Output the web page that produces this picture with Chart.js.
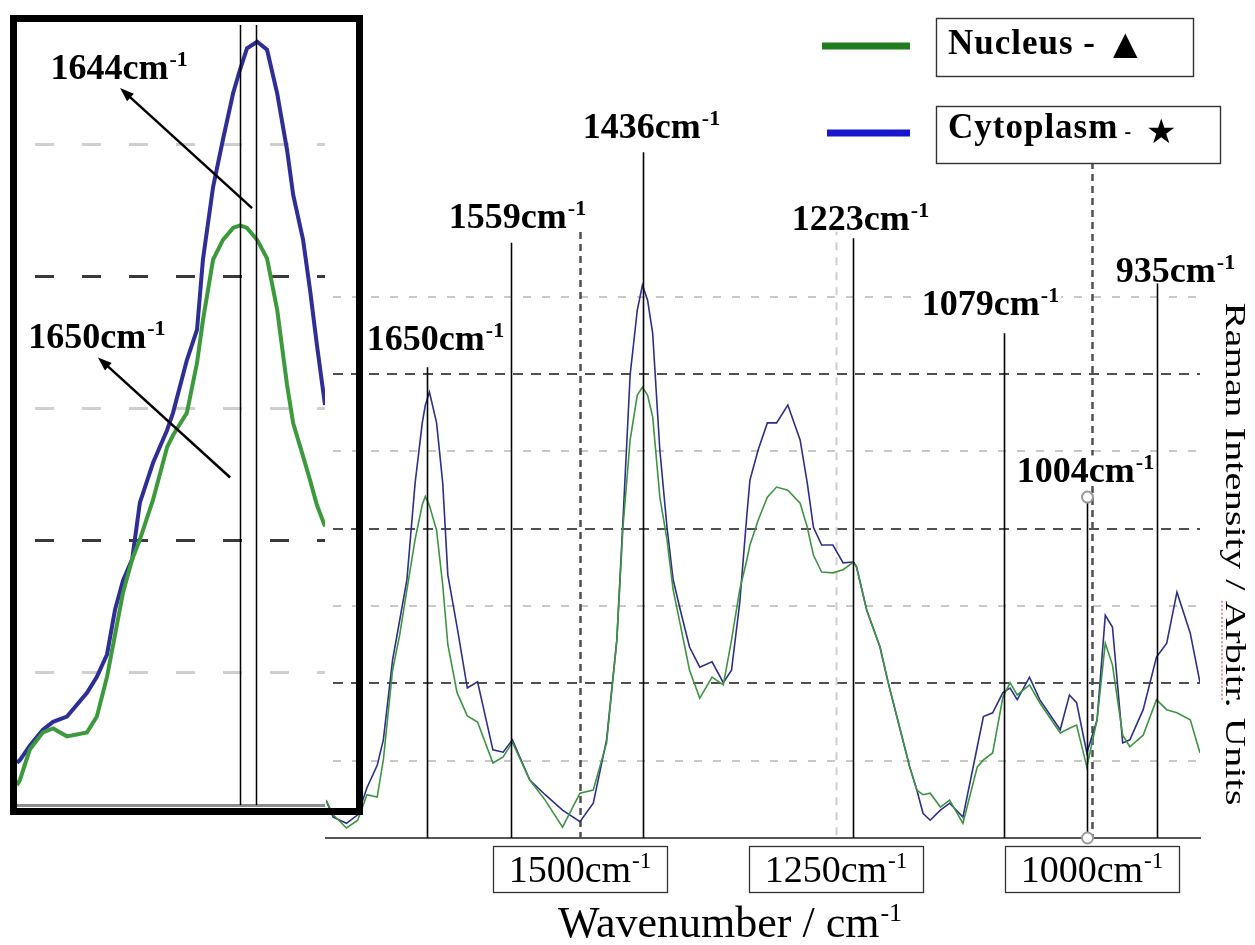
<!DOCTYPE html>
<html>
<head>
<meta charset="utf-8">
<title>Raman spectra</title>
<script src="https://cdn.jsdelivr.net/npm/chart.js@4.4.1/dist/chart.umd.min.js"></script>
<style>
  html, body { margin: 0; padding: 0; background: #fff; }
  #page { position: relative; width: 1255px; height: 945px; overflow: hidden; background: #fff; }
  #mainChart { position: absolute; left: 0; top: 0; }
  #insetChart { position: absolute; left: 17px; top: 22px; background: #fff; }
  #insetFrame { position: absolute; left: 10px; top: 15px; width: 353px; height: 800px;
                border: 7px solid #000; box-sizing: border-box; pointer-events: none; }
</style>
</head>
<body>
<div id="page">
  <canvas id="mainChart" width="1255" height="945"></canvas>
  <canvas id="insetChart" width="308" height="790"></canvas>
  <div id="insetFrame"></div>
</div>
<script>
// main spectrum, wavenumber in cm-1 (descending) and intensity in grid units
const wavenumbers = [1748, 1741, 1728, 1717, 1708, 1698, 1692, 1683, 1676, 1669, 1661, 1654, 1651, 1647,
    1640, 1634, 1629, 1620, 1610, 1600, 1585, 1575, 1566, 1549, 1534, 1517, 1500, 1487, 1474, 1464,
    1458, 1451, 1444, 1439, 1434, 1429, 1422, 1415, 1409, 1402, 1393, 1383, 1371, 1360, 1352, 1344,
    1337, 1334, 1326, 1317, 1308, 1297, 1285, 1278, 1272, 1264, 1253, 1243, 1233, 1230, 1220, 1207,
    1199, 1188, 1178, 1171, 1165, 1158, 1148, 1139, 1126, 1112, 1106, 1097, 1087, 1080, 1073, 1061,
    1051, 1031, 1022, 1015, 1005, 995, 987, 980, 970, 963, 950, 937, 927, 917, 904, 894.5];
const nucleus = [0.49, 0.30, 0.13, 0.23, 0.56, 0.53, 1.01, 2.17, 2.63, 3.21, 3.86, 4.31, 4.42, 4.30,
    3.98, 3.27, 2.50, 1.88, 1.58, 1.50, 0.97, 1.05, 1.24, 0.75, 0.49, 0.14, 0.58, 0.62, 1.23, 2.56,
    4.02, 5.15, 5.73, 5.83, 5.73, 5.45, 4.41, 3.86, 3.21, 2.76, 2.17, 1.81, 2.08, 1.98, 2.56, 3.21,
    3.60, 3.79, 4.11, 4.41, 4.54, 4.50, 4.33, 4.02, 3.66, 3.44, 3.43, 3.47, 3.57, 3.51, 2.95, 2.47,
    2.01, 1.44, 0.92, 0.62, 0.56, 0.58, 0.40, 0.49, 0.19, 0.92, 1.01, 1.10, 1.82, 2.01, 1.85, 1.98,
    1.75, 1.36, 1.42, 1.46, 0.92, 1.53, 2.52, 2.24, 1.33, 1.18, 1.33, 1.79, 1.66, 1.62, 1.53, 1.10];
const cytoplasm = [0.49, 0.27, 0.19, 0.30, 0.65, 0.94, 1.27, 2.30, 2.82, 3.34, 4.59, 5.37, 5.60, 5.77,
    5.37, 4.59, 3.40, 2.73, 1.94, 2.02, 1.14, 1.11, 1.27, 0.75, 0.56, 0.36, 0.21, 0.45, 1.27, 2.56,
    4.11, 5.99, 6.83, 7.15, 6.96, 6.53, 5.02, 4.02, 3.34, 2.95, 2.47, 2.21, 2.28, 2.01, 2.17, 3.04,
    4.18, 4.63, 5.02, 5.37, 5.37, 5.60, 5.15, 4.59, 4.02, 3.79, 3.79, 3.56, 3.57, 3.51, 2.95, 2.47,
    2.01, 1.44, 0.92, 0.62, 0.32, 0.23, 0.36, 0.45, 0.27, 1.18, 1.57, 1.62, 1.88, 1.94, 1.79, 2.08,
    1.79, 1.40, 1.85, 1.75, 1.10, 1.53, 2.88, 2.73, 1.23, 1.27, 1.66, 2.34, 2.52, 3.18, 2.65, 2.01];

const xTicks = [1500, 1250, 1000];
const yGrid = [1, 2, 3, 4, 5, 6, 7];

// marked bands: label text, where the marker line stands, how high it starts
const peakLabels = ['1650', '1559', '1436', '1223', '1079', '1004', '935'];
const peakLines = [1649.4, 1567.4, 1438.5, 1233.4, 1086, 1005, 936.5];
const peakTops = [6.09, 7.70, 8.87, 7.76, 6.53, 4.41, 7.18];

// zoomed view of the amide I band (inset)
const insetWavenumbers = [1733.5, 1732.4, 1728.7, 1723.8, 1720.0, 1714.8, 1707.3, 1703.6, 1699.8,
    1696.8, 1693.8, 1690.4, 1687.5, 1682.6, 1677.3, 1675.1, 1669.9, 1666.1, 1663.9, 1660.1, 1656.4,
    1652.6, 1650.0, 1647.4, 1643.6, 1639.9, 1636.1, 1632.4, 1630.1, 1626.4, 1623.8, 1621.2, 1618.2];
const insetNucleus = [0.15, 0.19, 0.42, 0.55, 0.58, 0.52, 0.55, 0.67, 0.97, 1.29, 1.61, 1.86, 2.01,
    2.31, 2.71, 2.80, 2.97, 3.35, 3.67, 4.13, 4.28, 4.37, 4.39, 4.37, 4.28, 4.14, 3.75, 3.18, 2.89,
    2.64, 2.46, 2.27, 2.11];
const insetCytoplasm = [0.32, 0.34, 0.45, 0.57, 0.63, 0.67, 0.85, 0.97, 1.14, 1.48, 1.70, 1.86, 2.29,
    2.59, 2.84, 2.97, 3.37, 3.60, 4.13, 4.68, 5.04, 5.39, 5.57, 5.73, 5.78, 5.72, 5.39, 4.96, 4.62,
    4.28, 3.90, 3.48, 3.03];
const insetMarks = [1650, 1644];
const insetLabels = ['1644', '1650'];

// annotation layout (not data)
const peakLabelLayout = [[8, 17], [6, 15], [8, 14], [7, 8], [-14, 18], [-2, 15], [18, 1]];
const xGridTops = [8.15, 7.9, 8.9];
const insetArrows = [
    { from: [1645.5, 4.52], to: [1694.9, 5.43] },
    { from: [1653.7, 2.48], to: [1703.2, 3.39] }
];

const SERIF = '"Liberation Serif", "DejaVu Serif", serif';
const SYMBOL = '"DejaVu Sans", sans-serif';

Chart.defaults.font.family = SERIF;

function points(xs, ys) {
    return xs.map((x, i) => ({ x: x, y: ys[i] }));
}

// text with a raised "-1" after it, returns its width
function supText(ctx, base, sup, x, y, size, weight, align, clear) {
    const mainFont = `${weight} ${size}px ${SERIF}`;
    const supSize = Math.round(size * 0.6);
    const supFont = `${weight} ${supSize}px ${SERIF}`;
    ctx.font = mainFont;
    const w1 = ctx.measureText(base).width;
    ctx.font = supFont;
    const w2 = ctx.measureText(sup).width;
    const total = w1 + 1 + w2;
    const left = align === 'center' ? x - total / 2 : x;
    if (clear) {
        ctx.fillStyle = '#fff';
        ctx.fillRect(left - 2, y - size * 0.74, total + 4, size * 0.78);
    }
    ctx.fillStyle = '#000';
    ctx.textAlign = 'left';
    ctx.textBaseline = 'alphabetic';
    ctx.font = mainFont;
    ctx.fillText(base, left, y);
    ctx.font = supFont;
    ctx.fillText(sup, left + w1 + 1, y - size * 0.36);
    return total;
}

function arrow(ctx, x1, y1, x2, y2) {
    const ang = Math.atan2(y2 - y1, x2 - x1);
    const len = 14, half = 5;
    ctx.beginPath();
    ctx.moveTo(x1, y1);
    ctx.lineTo(x2 - Math.cos(ang) * len * 0.8, y2 - Math.sin(ang) * len * 0.8);
    ctx.stroke();
    ctx.beginPath();
    ctx.moveTo(x2, y2);
    ctx.lineTo(x2 - Math.cos(ang) * len - Math.sin(ang) * half, y2 - Math.sin(ang) * len + Math.cos(ang) * half);
    ctx.lineTo(x2 - Math.cos(ang) * len + Math.sin(ang) * half, y2 - Math.sin(ang) * len - Math.cos(ang) * half);
    ctx.closePath();
    ctx.fill();
}

const notes = {
    id: 'notes',
    beforeDatasetsDraw(chart) {
        // vertical reference lines at the tick positions
        const { ctx, chartArea, scales: { x, y } } = chart;
        ctx.save();
        xTicks.forEach((v, i) => {
            const light = v === 1250;
            const px = Math.round(x.getPixelForValue(v)) + 0.5;
            ctx.strokeStyle = light ? '#cfcfcf' : '#4f4f4f';
            ctx.lineWidth = light ? 2 : 2.5;
            ctx.setLineDash(light ? [8, 7] : [7, 5]);
            ctx.beginPath();
            ctx.moveTo(px, y.getPixelForValue(xGridTops[i]));
            ctx.lineTo(px, chartArea.bottom);
            ctx.stroke();
        });
        ctx.restore();
    },
    afterDatasetsDraw(chart) {
        const { ctx, chartArea, scales: { x, y } } = chart;
        ctx.save();
        peakLines.forEach((w, i) => {
            const px = Math.round(x.getPixelForValue(w)) + 0.5;
            const top = y.getPixelForValue(peakTops[i]);
            const ringed = peakLabels[i] === '1004';
            ctx.strokeStyle = '#000';
            ctx.lineWidth = 1.6;
            ctx.beginPath();
            ctx.moveTo(px, ringed ? top + 6 : top);
            ctx.lineTo(px, ringed ? chartArea.bottom - 6 : chartArea.bottom);
            ctx.stroke();
            if (ringed) {
                [top, chartArea.bottom].forEach(cy => {
                    ctx.beginPath();
                    ctx.arc(px, cy, 5.5, 0, Math.PI * 2);
                    ctx.fillStyle = '#fff';
                    ctx.fill();
                    ctx.strokeStyle = '#9a9a9a';
                    ctx.lineWidth = 2;
                    ctx.stroke();
                });
            }
            const [dx, lift] = peakLabelLayout[i];
            supText(ctx, peakLabels[i] + 'cm', '-1', px + dx, top - lift, 36, 'bold', 'center', true);
        });
        ctx.restore();
    },
    afterDraw(chart) {
        const { ctx, chartArea, scales: { x } } = chart;
        ctx.save();

        // boxed tick labels under the axis
        xTicks.forEach(v => {
            const cx = x.getPixelForValue(v);
            const bw = 174, bh = 46, top = chartArea.bottom + 8;
            ctx.fillStyle = '#fff';
            ctx.fillRect(cx - bw / 2, top, bw, bh);
            ctx.strokeStyle = '#333';
            ctx.lineWidth = 1.3;
            ctx.strokeRect(Math.round(cx - bw / 2) + 0.5, top + 0.5, bw, bh);
            supText(ctx, v + 'cm', '-1', cx, top + 36, 38, 'normal', 'center', false);
        });

        // axis titles
        supText(ctx, 'Wavenumber / cm', '-1', 730, 937, 44, 'normal', 'center', false);

        ctx.save();
        ctx.translate(chartArea.right + 35, 554);
        ctx.rotate(Math.PI / 2);
        ctx.scale(1.35, 1);
        ctx.font = `30px ${SERIF}`;
        ctx.fillStyle = '#000';
        ctx.textAlign = 'left';
        ctx.textBaseline = 'alphabetic';
        const full = 'Raman Intensity / Arbitr. Units';
        const start = -ctx.measureText(full).width / 2;
        ctx.fillText(full, start, 9);
        const pre = ctx.measureText('Raman Intensity / ').width;
        const aw = ctx.measureText('Arbitr').width;
        ctx.strokeStyle = '#e05050';
        ctx.lineWidth = 1.2;
        ctx.setLineDash([1.5, 1.5]);
        ctx.beginPath();
        ctx.moveTo(start + pre, 13);
        ctx.lineTo(start + pre + aw, 13);
        ctx.stroke();
        ctx.restore();

        // legend
        ctx.lineWidth = 7;
        ctx.strokeStyle = '#1f7d1f';
        ctx.beginPath(); ctx.moveTo(822, 46); ctx.lineTo(910, 46); ctx.stroke();
        ctx.strokeStyle = '#1717cf';
        ctx.beginPath(); ctx.moveTo(827, 133); ctx.lineTo(910, 133); ctx.stroke();

        ctx.fillStyle = '#fff';
        ctx.fillRect(936.5, 18.5, 257, 58);
        ctx.fillRect(936.5, 106.5, 284, 57);
        ctx.lineWidth = 1.4;
        ctx.strokeStyle = '#333';
        ctx.strokeRect(936.5, 18.5, 257, 58);
        ctx.strokeRect(936.5, 106.5, 284, 57);

        ctx.fillStyle = '#000';
        ctx.textAlign = 'left';
        ctx.textBaseline = 'alphabetic';
        if ('letterSpacing' in ctx) ctx.letterSpacing = '1px';
        ctx.font = `bold 35px ${SERIF}`;
        ctx.fillText('Nucleus -', 948, 54);
        ctx.fillText('Cytoplasm', 948, 138);
        const cw = ctx.measureText('Cytoplasm').width;
        if ('letterSpacing' in ctx) ctx.letterSpacing = '0px';
        ctx.font = `bold 20px ${SERIF}`;
        ctx.fillText('-', 948 + cw + 6, 138);
        ctx.font = `32px ${SYMBOL}`;
        ctx.fillText('▲', 1113, 54);
        ctx.font = `34px ${SYMBOL}`;
        ctx.fillText('★', 1146, 143);

        ctx.restore();
    }
};

new Chart(document.getElementById('mainChart'), {
    type: 'line',
    data: {
        datasets: [
            { label: 'Nucleus', data: points(wavenumbers, nucleus), borderColor: '#3f9443', borderWidth: 1.6, pointRadius: 0 },
            { label: 'Cytoplasm', data: points(wavenumbers, cytoplasm), borderColor: '#2f2f88', borderWidth: 1.6, pointRadius: 0 }
        ]
    },
    options: {
        responsive: false,
        animation: false,
        devicePixelRatio: 1,
        layout: { padding: { left: 326, right: 55, top: 150, bottom: 107 } },
        plugins: { legend: { display: false }, tooltip: { enabled: false } },
        scales: {
            x: {
                type: 'linear', reverse: true, min: 894.5, max: 1748,
                afterBuildTicks: s => { s.ticks = xTicks.map(v => ({ value: v })); },
                ticks: { display: false },
                grid: { display: false, drawTicks: false },
                border: { display: true, color: '#555', width: 2 }
            },
            y: {
                min: 0, max: 8.9,
                afterBuildTicks: s => { s.ticks = yGrid.map(v => ({ value: v })); },
                ticks: { display: false },
                grid: {
                    drawTicks: false,
                    lineWidth: 2,
                    color: c => (c.tick && c.tick.value % 2 === 0) ? '#505050' : '#c8c8c8'
                },
                border: {
                    display: false,
                    dash: c => (c.tick && c.tick.value % 2 === 0) ? [10, 8] : [8, 11],
                    dashOffset: -7
                }
            }
        }
    },
    plugins: [notes]
});

const insetNotes = {
    id: 'insetNotes',
    afterDatasetsDraw(chart) {
        const { ctx, scales: { x, y } } = chart;
        ctx.save();
        ctx.strokeStyle = '#000';
        ctx.fillStyle = '#000';
        ctx.lineWidth = 1.5;
        insetMarks.forEach(w => {
            const px = Math.round(x.getPixelForValue(w)) + 0.5;
            ctx.beginPath();
            ctx.moveTo(px, y.getPixelForValue(y.max) + 3);
            ctx.lineTo(px, y.getPixelForValue(0));
            ctx.stroke();
        });
        ctx.lineWidth = 2.5;
        insetArrows.forEach((a, i) => {
            const x1 = x.getPixelForValue(a.from[0]), y1 = y.getPixelForValue(a.from[1]);
            const x2 = x.getPixelForValue(a.to[0]), y2 = y.getPixelForValue(a.to[1]);
            ctx.strokeStyle = '#000';
            ctx.fillStyle = '#000';
            arrow(ctx, x1, y1, x2, y2);
            supText(ctx, insetLabels[i] + 'cm', '-1', x2 - 1, y2 - 9, 36, 'bold', 'center', false);
        });
        ctx.restore();
    }
};

new Chart(document.getElementById('insetChart'), {
    type: 'line',
    data: {
        datasets: [
            { label: 'Nucleus', data: points(insetWavenumbers, insetNucleus), borderColor: '#3c9a3c', borderWidth: 4, pointRadius: 0 },
            { label: 'Cytoplasm', data: points(insetWavenumbers, insetCytoplasm), borderColor: '#2e2e96', borderWidth: 4, pointRadius: 0 }
        ]
    },
    options: {
        responsive: false,
        animation: false,
        devicePixelRatio: 1,
        layout: { padding: { left: 0, right: 0, top: 0, bottom: 7 } },
        plugins: { legend: { display: false }, tooltip: { enabled: false } },
        scales: {
            x: {
                type: 'linear', reverse: true, min: 1618.2, max: 1733.5,
                ticks: { display: false },
                grid: { display: false, drawTicks: false },
                border: { display: true, color: '#8c8c8c', width: 3 }
            },
            y: {
                min: 0, max: 5.93,
                afterBuildTicks: s => { s.ticks = [1, 2, 3, 4, 5].map(v => ({ value: v })); },
                ticks: { display: false },
                grid: {
                    drawTicks: false,
                    lineWidth: 3,
                    color: c => (c.tick && c.tick.value % 2 === 0) ? '#3a3a3a' : '#cfcfcf'
                },
                border: { display: false, dash: [19, 28], dashOffset: 29 }
            }
        }
    },
    plugins: [insetNotes]
});
</script>
</body>
</html>
